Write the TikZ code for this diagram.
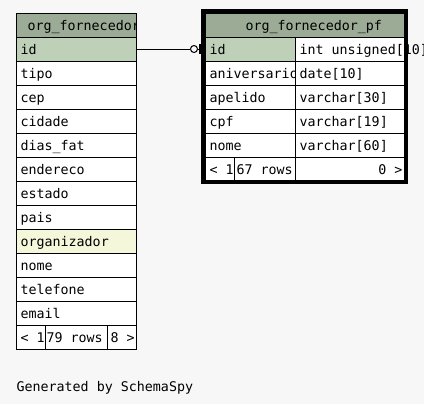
\documentclass[tikz,border=0pt]{standalone}
\usepackage{fontspec}
\setmonofont{DejaVu Sans Mono}
\usetikzlibrary{positioning}

\definecolor{diagbg}{HTML}{F7F7F7}
\definecolor{headgreen}{HTML}{9BAB96}
\definecolor{keygreen}{HTML}{BED1B8}
\definecolor{idxyellow}{HTML}{F4F7DA}

\tikzset{
  tblcell/.style={draw, rectangle, inner sep=0pt, outer sep=0pt, minimum height=18pt},
  headcell/.style={tblcell, fill=headgreen},
  coltext/.style={anchor=base west, inner sep=0pt, font=\ttfamily},
}

\begin{document}
\begin{tikzpicture}[x=0.75pt, y=-0.75pt, line width=0.75pt]

% Background
\useasboundingbox[fill=diagbg] (0,0) rectangle (424,404);

% Table org_fornecedor
\node[headcell, minimum width=90pt] (l0) at (76,25) {};
\begin{scope}
  \clip (l0.south west) rectangle (l0.north east);
  \node[coltext] (lh) at ([xshift=8.25pt, yshift=-3.75pt]l0.west) {org\_fornecedor};
\end{scope}
\foreach \col/\bg [count=\i, remember=\i as \j (initially 0)] in
  {id/keygreen, tipo/white, cep/white, cidade/white, dias\_fat/white,
   endereco/white, estado/white, pais/white, organizador/idxyellow,
   nome/white, telefone/white, email/white}{
  \node[tblcell, fill=\bg, minimum width=90pt, below=0pt of l\j] (l\i) {};
  \node[coltext] (lt\i) at ([xshift=3pt, yshift=-3.75pt]l\i.west) {\col};
}
\node[tblcell, fill=white, minimum width=21.75pt, below right=0pt and 0pt of l12.south west] (lf1) {};
\node[tblcell, fill=white, minimum width=46.5pt, right=0pt of lf1] (lf2) {};
\node[tblcell, fill=white, minimum width=21.75pt, right=0pt of lf2] (lf3) {};
\node[coltext] (lft1) at ([xshift=3pt, yshift=-3.75pt]lf1.west) {< 1};
\node[coltext] (lft2) at ([xshift=0.75pt, yshift=-3.75pt]lf2.west) {79 rows};
\node[coltext] (lft3) at ([xshift=2.25pt, yshift=-3.75pt]lf3.west) {8 >};

% Table org_fornecedor_pf
\node[headcell, minimum width=149.25pt] (r0) at (304.5,25) {};
\node[coltext] (rh) at ([xshift=30pt, yshift=-3.75pt]r0.west) {org\_fornecedor\_pf};
\foreach \col/\typ/\bg [count=\i, remember=\i as \j (initially 0)] in
  {id/int unsigned[10]/keygreen, aniversario/date[10]/white,
   apelido/varchar[30]/white, cpf/varchar[19]/white, nome/varchar[60]/white}{
  \node[tblcell, fill=\bg, minimum width=67.5pt, below=0pt of r\j.south west, anchor=north west] (r\i) {};
  \node[tblcell, fill=white, minimum width=81.75pt, right=0pt of r\i] (t\i) {};
  \begin{scope}
    \clip (r\i.south west) rectangle (r\i.north east);
    \node[coltext] (rt\i) at ([xshift=3pt, yshift=-3.75pt]r\i.west) {\col};
  \end{scope}
  \node[coltext] (tt\i) at ([xshift=3pt, yshift=-3.75pt]t\i.west) {\typ};
}
\node[tblcell, fill=white, minimum width=21.75pt, below right=0pt and 0pt of r5.south west] (rf1) {};
\node[tblcell, fill=white, minimum width=45.75pt, right=0pt of rf1] (rf2) {};
\node[tblcell, fill=white, minimum width=81.75pt, right=0pt of rf2] (rf3) {};
\node[coltext] (rft1) at ([xshift=3pt, yshift=-3.75pt]rf1.west) {< 1};
\node[coltext] (rft2) at ([xshift=1.5pt, yshift=-3.75pt]rf2.west) {67 rows};
\node[coltext, anchor=base east] (rft3) at ([xshift=-0.75pt, yshift=-3.75pt]rf3.east) {0 >};

% Relation id -- id (zero or one)
\node[circle, draw, fill=diagbg, inner sep=0pt, minimum size=5.25pt] (opt) at (194,49) {};
\coordinate (bar) at (200,49);
\draw (l1.east) -- (opt.west);
\draw (opt.east) -- (r1.west);
\draw[line width=1.5pt] ([yshift=3.75pt]bar) -- ([yshift=-3.75pt]bar);

% Thick frame of the focused table
\draw[line width=3pt] (203,11) rectangle (406,182);

% Footer
\node[coltext] (gen) at (16,391) {Generated by SchemaSpy};

\end{tikzpicture}
\end{document}
